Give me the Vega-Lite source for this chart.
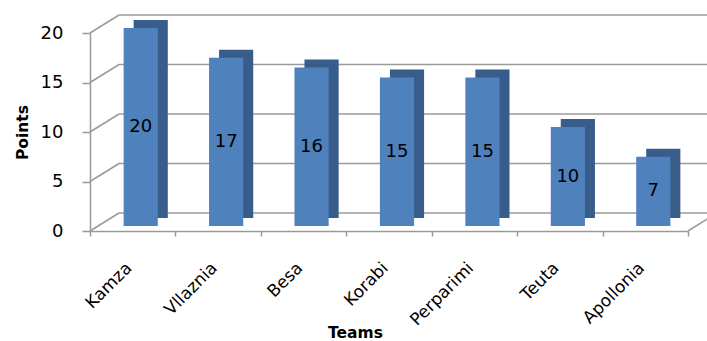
{
  "$schema": "https://vega.github.io/schema/vega-lite/v6.json",
  "width": 598,
  "height": 198,
  "autosize": {"type": "none"},
  "padding": {"left": 90, "top": 33, "right": 19, "bottom": 110},
  "background": "white",
  "config": {"view": {"stroke": null}, "font": "DejaVu Sans"},
  "resolve": {"scale": {"x": "independent", "y": "independent"}},
  "datasets": {
    "teams": [
      {"team": "Kamza", "points": 20},
      {"team": "Vllaznia", "points": 17},
      {"team": "Besa", "points": 16},
      {"team": "Korabi", "points": 15},
      {"team": "Perparimi", "points": 15},
      {"team": "Teuta", "points": 10},
      {"team": "Apollonia", "points": 7}
    ],
    "grid": [{"g": 0}, {"g": 5}, {"g": 10}, {"g": 15}, {"g": 20}]
  },
  "layer": [
    {
      "data": {"name": "grid"},
      "mark": {"type": "rule", "color": "#9a9a9a", "strokeWidth": 1.5, "xOffset": 29, "x2Offset": 29, "yOffset": -18, "y2Offset": -18},
      "encoding": {
        "x": {"datum": 0, "type": "quantitative", "scale": {"domain": [0, 1]}, "axis": null},
        "x2": {"datum": 1},
        "y": {"field": "g", "type": "quantitative", "scale": {"domain": [0, 20]}, "axis": null},
        "y2": {"field": "g"}
      }
    },
    {
      "data": {"name": "grid"},
      "mark": {"type": "rule", "color": "#9a9a9a", "strokeWidth": 1.5, "x2Offset": 29, "y2Offset": -18},
      "encoding": {
        "x": {"datum": 0, "type": "quantitative", "scale": {"domain": [0, 1]}, "axis": null},
        "x2": {"datum": 0},
        "y": {"field": "g", "type": "quantitative", "scale": {"domain": [0, 20]}, "axis": null},
        "y2": {"field": "g"}
      }
    },
    {
      "data": {"values": [{"g": 0}]},
      "mark": {"type": "rule", "color": "#9a9a9a", "strokeWidth": 1.5, "x2Offset": 29, "y2Offset": -18},
      "encoding": {
        "x": {"datum": 1, "type": "quantitative", "scale": {"domain": [0, 1]}, "axis": null},
        "x2": {"datum": 1},
        "y": {"field": "g", "type": "quantitative", "scale": {"domain": [0, 20]}, "axis": null},
        "y2": {"field": "g"}
      }
    },
    {
      "data": {"name": "teams"},
      "layer": [
        {
          "mark": {"type": "bar", "color": "#385D8A", "width": {"band": 0.4}, "xOffset": 18, "x2Offset": 18, "yOffset": -13, "y2Offset": -13},
          "encoding": {
            "x": {"field": "team", "type": "nominal", "sort": null, "scale": {"paddingInner": 0, "paddingOuter": 0}},
            "y": {"field": "points", "type": "quantitative", "scale": {"domain": [0, 20]}}
          }
        },
        {
          "mark": {"type": "bar", "color": "#4F81BD", "width": {"band": 0.4}, "xOffset": 8, "x2Offset": 8, "yOffset": -5, "y2Offset": -5},
          "encoding": {
            "x": {
              "field": "team", "type": "nominal", "sort": null,
              "scale": {"paddingInner": 0, "paddingOuter": 0},
              "axis": {
                "title": "Teams", "titleFontSize": 15.5, "titleFontWeight": "bold", "titleColor": "#000",
                "titleX": 265, "titleY": 106, "titleBaseline": "alphabetic", "titleAlign": "center", "titleAnchor": null,
                "labelAngle": -45, "labelFontSize": 17, "labelColor": "#000", "labelPadding": 29, "labelOffset": -4,
                "tickBand": "extent", "tickSize": 5, "tickColor": "#9a9a9a", "tickWidth": 1.5,
                "domainColor": "#9a9a9a", "domainWidth": 1.5
              }
            },
            "y": {
              "field": "points", "type": "quantitative", "scale": {"domain": [0, 20]},
              "axis": {
                "values": [0, 5, 10, 15, 20], "grid": false,
                "title": "Points", "titleFontSize": 15.5, "titleFontWeight": "bold", "titleColor": "#000",
                "titleX": -68, "titleY": 99, "titleBaseline": "middle", "titleAlign": "center", "titleAnchor": null,
                "labelFontSize": 18, "labelColor": "#000", "labelPadding": 19,
                "tickSize": 8, "tickColor": "#9a9a9a", "tickWidth": 1.5,
                "domainColor": "#9a9a9a", "domainWidth": 1.5
              }
            }
          }
        }
      ]
    },
    {
      "data": {"name": "teams"},
      "mark": {"type": "text", "fontSize": 18, "color": "#000", "dx": 8, "dy": -5, "baseline": "middle"},
      "encoding": {
        "x": {"field": "team", "type": "nominal", "sort": null, "scale": {"paddingInner": 0, "paddingOuter": 0}, "axis": null},
        "y": {"field": "points", "type": "quantitative", "scale": {"domain": [0, 40]}, "axis": null},
        "text": {"field": "points", "type": "quantitative"}
      }
    }
  ]
}
